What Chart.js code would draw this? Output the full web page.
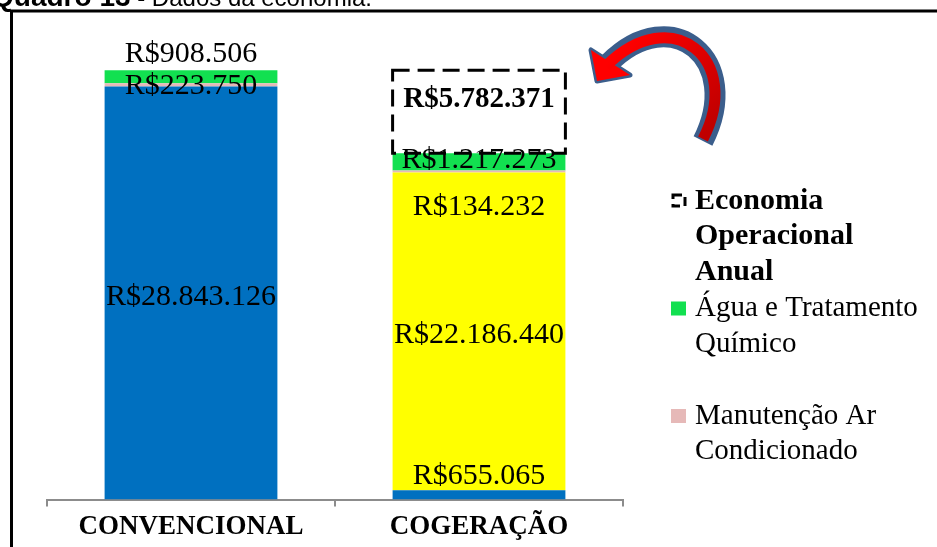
<!DOCTYPE html>
<html><head><meta charset="utf-8">
<script src="https://cdn.jsdelivr.net/npm/chart.js@4.4.1/dist/chart.umd.min.js"></script>
<style>html,body{margin:0;padding:0;background:#fff;overflow:hidden}#wrap{position:relative;width:937px;height:547px}</style>
</head><body><div id="wrap"><canvas id="c" width="937" height="547"></canvas></div>
<script>
// ---- data ----
const categories = ['CONVENCIONAL', 'COGERAÇÃO'];
const energiaEletrica = [28843126, 655065];
const gasNatural = [null, 22186440];
const manutencaoAr = [223750, 134232];
const aguaTratamento = [908506, 1217273];
const economiaOperacional = [null, 5782371];
const seriesNames = ['Energia Elétrica', 'Gás Natural', 'Manutenção Ar Condicionado', 'Água e Tratamento Químico', 'Economia Operacional Anual'];
const titleBold = 'Quadro 13';
const titleRest = ' - Dados da economia.';
const yMax = 30000000;

// ---- layout / style (not data) ----
const labelShift = [[4, -19], [0, 4], [1, 36], [-23, -2], [0, -12]];
const legendOrder = [4, 3, 2];
const serif = '"Liberation Serif", "Times New Roman", serif';

function fmt(v) { return 'R$' + String(v).replace(/\B(?=(\d{3})+(?!\d))/g, '.'); }

function wrapText(ctx, text, maxW) {
  const words = text.split(' '); const lines = []; let cur = '';
  for (const w of words) {
    const t = cur ? cur + ' ' + w : w;
    if (ctx.measureText(t).width > maxW && cur) { lines.push(cur); cur = w; } else cur = t;
  }
  if (cur) lines.push(cur);
  return lines;
}

const decor = {
  id: 'decor',
  beforeDraw(chart) {
    const ctx = chart.ctx;
    ctx.save();
    ctx.fillStyle = '#fff'; ctx.fillRect(0, 0, chart.width, chart.height);
    ctx.strokeStyle = '#000'; ctx.lineWidth = 3;
    ctx.strokeRect(11.5, 11, chart.width + 40, chart.height + 40);
    ctx.fillStyle = '#000'; ctx.textBaseline = 'alphabetic'; ctx.textAlign = 'left';
    const fRest = '24px "Liberation Sans", Arial, sans-serif';
    const fBold = 'bold 28px "Liberation Sans", Arial, sans-serif';
    ctx.font = fRest; const wRest = ctx.measureText(titleRest).width;
    ctx.font = fBold; const wBold = ctx.measureText(titleBold).width;
    const x0 = 372 - wRest - wBold;
    ctx.fillText(titleBold, x0, 6);
    ctx.font = fRest;
    ctx.fillText(titleRest, x0 + wBold, 6);
    ctx.restore();
  },
  afterDatasetsDraw(chart) {
    const ctx = chart.ctx;
    ctx.save();
    ctx.fillStyle = '#000'; ctx.textAlign = 'center'; ctx.textBaseline = 'middle';
    chart.data.datasets.forEach((ds, di) => {
      const meta = chart.getDatasetMeta(di);
      ds.data.forEach((v, i) => {
        if (v === null || v === undefined) return;
        const el = meta.data[i];
        const cy = (el.y + el.base) / 2 + labelShift[di][i];
        ctx.font = ds.legendBold ? ('bold 29px ' + serif) : ('30px ' + serif);
        ctx.fillText(fmt(v), el.x, cy);
      });
    });
    const em = chart.getDatasetMeta(4);
    const el = em.data[1];
    ctx.setLineDash([17, 8]);
    ctx.lineWidth = 3; ctx.strokeStyle = '#000';
    ctx.strokeRect(el.x - el.width / 2, el.y, el.width, el.base - el.y);
    ctx.restore();
  },
  afterDraw(chart) {
    const ctx = chart.ctx;
    ctx.save();
    ctx.textAlign = 'left'; ctx.textBaseline = 'middle'; ctx.fillStyle = '#000';
    legendOrder.forEach((di, k) => {
      const ds = chart.data.datasets[di];
      const y0 = 201 + k * 107.5;
      if (ds.legendBold) {
        ctx.save(); ctx.setLineDash([9, 5]); ctx.lineWidth = 3; ctx.strokeStyle = '#000';
        ctx.strokeRect(673, y0 - 6, 12, 11); ctx.restore();
      } else {
        ctx.fillStyle = ds.backgroundColor; ctx.fillRect(671, y0 - 7, 15, 14);
      }
      ctx.fillStyle = '#000';
      ctx.font = ds.legendBold ? ('bold 30px ' + serif) : ('29px ' + serif);
      const lines = wrapText(ctx, ds.label, 232);
      lines.forEach((ln, j) => ctx.fillText(ln, 695, y0 + j * 35.5));
    });
    // curved arrow
    const p0 = [703, 141], c1 = [744, 60], c2 = [672, 0], p1 = [609, 63];
    ctx.beginPath(); ctx.moveTo(p0[0], p0[1]);
    ctx.bezierCurveTo(c1[0], c1[1], c2[0], c2[1], p1[0], p1[1]);
    ctx.lineCap = 'butt'; ctx.strokeStyle = '#3B5E8C'; ctx.lineWidth = 21; ctx.stroke();
    ctx.beginPath(); ctx.moveTo(591, 50); ctx.lineTo(597, 81); ctx.lineTo(630, 75); ctx.closePath();
    ctx.fillStyle = '#FF0000'; ctx.fill();
    ctx.lineJoin = 'round'; ctx.lineWidth = 5; ctx.strokeStyle = '#3B5E8C'; ctx.stroke();
    ctx.fillStyle = '#FF0000'; ctx.fill();
    const g = ctx.createLinearGradient(700, 140, 610, 60);
    g.addColorStop(0, '#C00000'); g.addColorStop(0.5, '#E00000'); g.addColorStop(1, '#FF0000');
    ctx.beginPath(); ctx.moveTo(p0[0], p0[1] - 2);
    ctx.bezierCurveTo(c1[0], c1[1], c2[0], c2[1], p1[0] - 3, p1[1] + 3);
    ctx.strokeStyle = g; ctx.lineWidth = 11; ctx.stroke();
    ctx.restore();
  }
};

new Chart(document.getElementById('c'), {
  type: 'bar',
  data: {
    labels: categories,
    datasets: [
      { label: seriesNames[0], data: energiaEletrica, backgroundColor: '#0070C0' },
      { label: seriesNames[1], data: gasNatural, backgroundColor: '#FFFF00' },
      { label: seriesNames[2], data: manutencaoAr, backgroundColor: '#E6B9B8' },
      { label: seriesNames[3], data: aguaTratamento, backgroundColor: '#12E050' },
      { label: seriesNames[4], data: economiaOperacional, backgroundColor: 'rgba(0,0,0,0)', legendBold: true }
    ]
  },
  options: {
    responsive: false,
    animation: false,
    devicePixelRatio: 1,
    layout: { padding: { left: 47, right: 314, top: 70, bottom: 0 } },
    datasets: { bar: { barPercentage: 0.6, categoryPercentage: 1.0, borderWidth: 0 } },
    plugins: { legend: { display: false }, tooltip: { enabled: false } },
    scales: {
      x: {
        stacked: true,
        grid: { display: true, offset: true, drawOnChartArea: false, drawTicks: true, tickLength: 7, color: '#8C8C8C', lineWidth: 2 },
        border: { display: true, color: '#8C8C8C', width: 2 },
        ticks: { color: '#000', padding: 4, font: { family: serif, size: 27, weight: 'bold' } }
      },
      y: { stacked: true, display: false, min: 0, max: yMax }
    }
  },
  plugins: [decor]
});
</script></body></html>
